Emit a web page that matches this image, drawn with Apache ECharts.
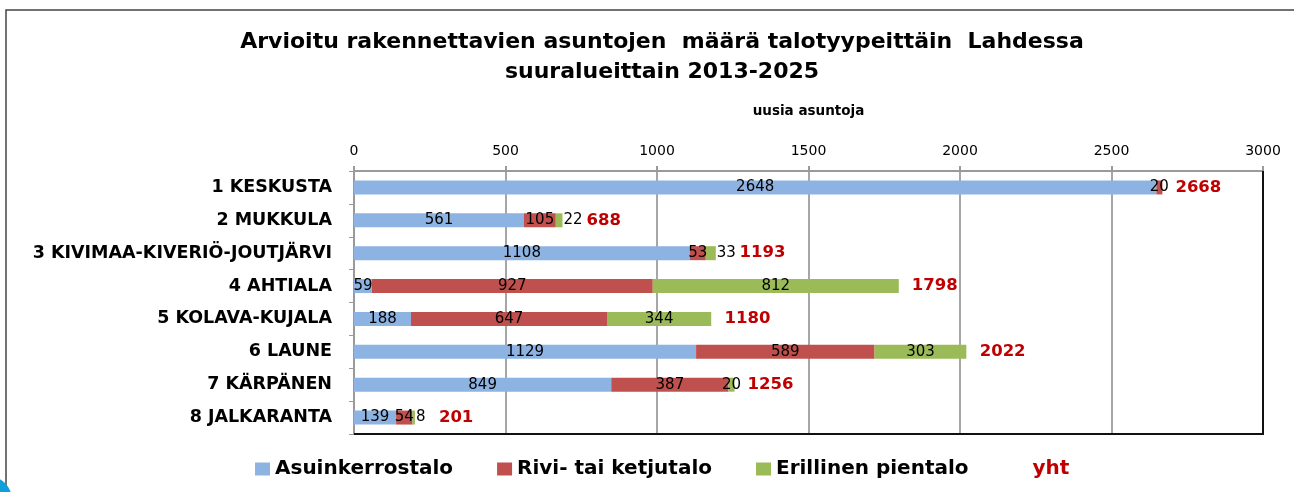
<!DOCTYPE html>
<html>
<head>
<meta charset="utf-8">
<script src="https://cdn.jsdelivr.net/npm/echarts@6/dist/echarts.min.js"></script>
<style>
  html, body { margin: 0; padding: 0; background: #fff; }
  #chart { width: 1294px; height: 492px; }
</style>
</head>
<body>
<div id="chart"></div>
<script>
// suuralueet, ylhaalta alas
var categories = ["1 KESKUSTA", "2 MUKKULA", "3 KIVIMAA-KIVERIÖ-JOUTJÄRVI", "4 AHTIALA",
                  "5 KOLAVA-KUJALA", "6 LAUNE", "7 KÄRPÄNEN", "8 JALKARANTA"];
var asuinkerrostalo = [2648, 561, 1108, 59, 188, 1129, 849, 139];
var rivitalo = [20, 105, 53, 927, 647, 589, 387, 54];
var pientalo = [0, 22, 33, 812, 344, 303, 20, 8];
var yht = [2668, 688, 1193, 1798, 1180, 2022, 1256, 201];
var xTicks = [0, 500, 1000, 1500, 2000, 2500, 3000];

// pienet vihreat arvot, joiden teksti on palkin oikealla puolella
var shiftedGreen = [1, 2, 7];

var numFont = "DejaVu Sans";
var txtFont = "DejaVu Sans";

function items(arr, shifted) {
  return arr.map(function (v, i) {
    var d = { value: v };
    if (v === 0) d.label = { show: false };
    else if (shifted && shifted.indexOf(i) >= 0) d.label = { position: "right", distance: 1 };
    return d;
  });
}

var segLabel = { show: true, position: "inside", color: "#000", fontFamily: numFont, fontSize: 15 };

var chart = echarts.init(document.getElementById("chart"));
chart.setOption({
  animation: false,
  title: {
    text: "Arvioitu rakennettavien asuntojen  määrä talotyypeittäin  Lahdessa\nsuuralueittain 2013-2025",
    left: 657, top: 22, textAlign: "center",
    textStyle: { fontFamily: txtFont, fontWeight: "bold", fontSize: 22, lineHeight: 30, color: "#000" }
  },
  legend: {
    bottom: 8, left: 250,
    itemWidth: 15, itemHeight: 13, itemGap: 44,
    textStyle: { fontFamily: txtFont, fontWeight: "bold", fontSize: 20, color: "#000" },
    data: [
      { name: "Asuinkerrostalo", icon: "rect" },
      { name: "Rivi- tai ketjutalo", icon: "rect" },
      { name: "Erillinen pientalo", icon: "rect" },
      { name: "yht", icon: "none", textStyle: { color: "#c00000" } }
    ]
  },
  grid: { left: 354, right: 31, top: 171, bottom: 58, containLabel: false },
  xAxis: {
    type: "value", position: "top", min: xTicks[0], max: xTicks[xTicks.length - 1], interval: 500,
    name: "uusia asuntoja", nameLocation: "middle", nameGap: 53,
    nameTextStyle: { fontFamily: txtFont, fontWeight: "bold", fontSize: 13.5, color: "#000" },
    axisLine: { show: true, lineStyle: { color: "#9a9a9a", width: 2 } },
    axisTick: { show: true, length: 5, lineStyle: { color: "#9a9a9a", width: 2 } },
    axisLabel: { fontFamily: numFont, fontSize: 14, color: "#000", margin: 13,
                 formatter: function (v) { return String(v); } },
    splitLine: { show: true, lineStyle: { color: "#a6a6a6", width: 2 } }
  },
  yAxis: {
    type: "category", inverse: true, data: categories,
    axisLine: { show: true, lineStyle: { color: "#9a9a9a", width: 2 } },
    axisTick: { show: true, length: 5, lineStyle: { color: "#9a9a9a" } },
    axisLabel: { fontFamily: txtFont, fontWeight: "bold", fontSize: 17.5, color: "#000", margin: 22 }
  },
  graphic: [
    { type: "rect", shape: { x: 6, y: 10, width: 1400, height: 600 }, style: { fill: "none", stroke: "#444", lineWidth: 1.5 }, silent: true },
    { type: "polyline", shape: { points: [[1263, 171], [1263, 434], [354, 434]] }, style: { fill: "none", stroke: "#111", lineWidth: 2 }, silent: true, z: 10 },
    { type: "circle", shape: { cx: -12, cy: 500, r: 24 }, style: { fill: "#119fdc" }, silent: true }
  ],
  series: [
    { name: "Asuinkerrostalo", type: "bar", stack: "a", barWidth: 14, itemStyle: { color: "#8db3e2" },
      label: segLabel, data: items(asuinkerrostalo) },
    { name: "Rivi- tai ketjutalo", type: "bar", stack: "a", barWidth: 14, itemStyle: { color: "#c0504d" },
      label: segLabel, data: items(rivitalo) },
    { name: "Erillinen pientalo", type: "bar", stack: "a", barWidth: 14, itemStyle: { color: "#9bbb59" },
      label: segLabel, data: items(pientalo, shiftedGreen) },
    { name: "yht", type: "bar", barWidth: 14, barGap: "-100%", itemStyle: { color: "rgba(0,0,0,0)" },
      label: { show: true, position: "right", distance: 13, color: "#c00000", fontFamily: numFont,
               fontWeight: "bold", fontSize: 16.5 },
      data: yht.map(function (v, i) {
        var d = { value: v };
        if (shiftedGreen.indexOf(i) >= 0) d.label = { distance: 24 };
        return d;
      }) }
  ]
});
</script>
</body>
</html>
